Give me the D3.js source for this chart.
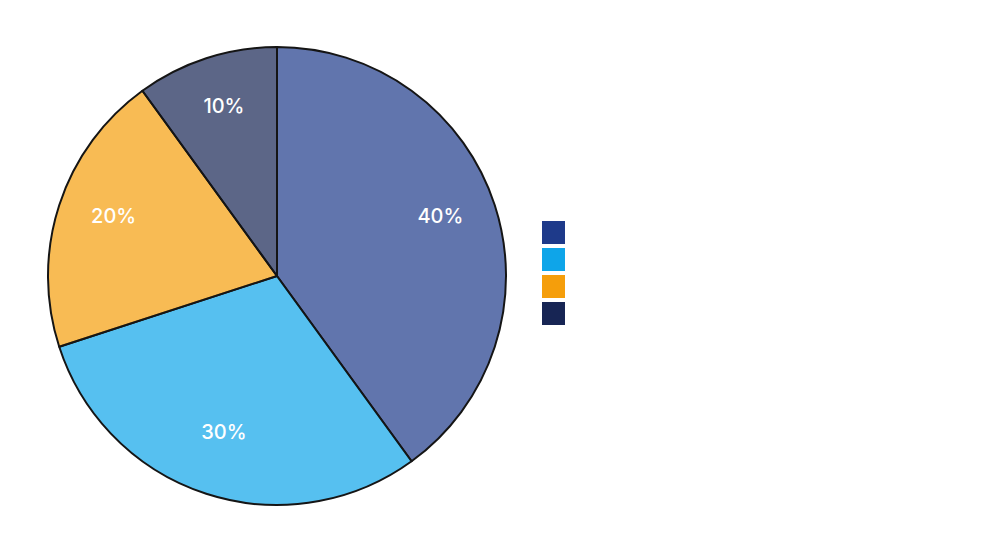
<!DOCTYPE html>
<html><head><meta charset="utf-8">
<script src="https://cdn.jsdelivr.net/npm/d3@7"></script>
<style>body{margin:0;background:#fff}svg{display:block}</style>
</head><body>
<svg id="c" width="1000" height="552"></svg>
<script>
const categories = ["A", "B", "C", "D"];
const values = [40, 30, 20, 10];
const colors = ["#1e3a8a", "#0ea5e9", "#f59e0b", "#172554"];

const svg = d3.select("#c");
const cx = 277, cy = 276, R = 229;
const g = svg.append("g").attr("transform", `translate(${cx},${cy})`);
const pie = d3.pie().sort(null).value(d => d)(values);
const arc = d3.arc().innerRadius(0).outerRadius(R);
const labelArc = d3.arc().innerRadius(R * 0.75).outerRadius(R * 0.75);

g.selectAll("path").data(pie).join("path")
  .attr("d", arc)
  .attr("fill", (d, i) => colors[i])
  .attr("fill-opacity", 0.7)
  .attr("stroke", "#151515")
  .attr("stroke-width", 2)
  .attr("stroke-linejoin", "round");

g.selectAll("text").data(pie).join("text")
  .attr("transform", d => `translate(${labelArc.centroid(d)})`)
  .attr("text-anchor", "middle")
  .attr("fill", "#fff")
  .attr("font-family", "Inter, sans-serif")
  .attr("font-size", 20)
  .attr("font-weight", 500)
  .text(d => d.data + "%");

const leg = svg.append("g").attr("transform", "translate(542,221)");
leg.selectAll("rect").data(categories).join("rect")
  .attr("x", 0)
  .attr("y", (d, i) => i * 27)
  .attr("width", 23)
  .attr("height", 23)
  .attr("fill", (d, i) => colors[i]);
</script>
</body></html>
